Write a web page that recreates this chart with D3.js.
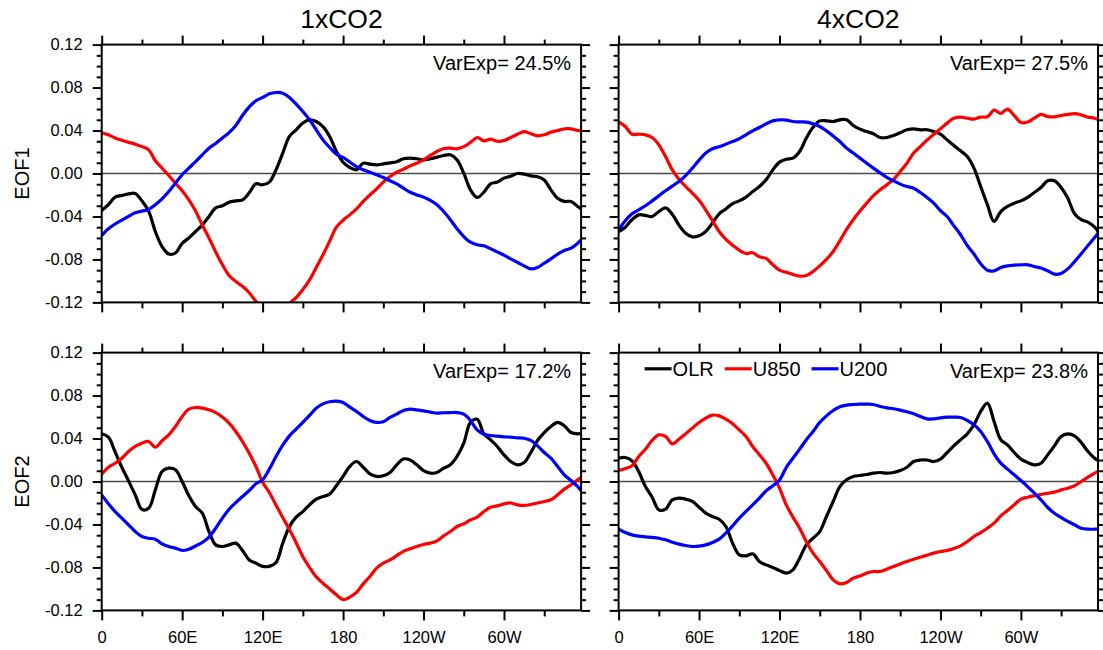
<!DOCTYPE html>
<html>
<head>
<meta charset="utf-8">
<script src="https://cdn.jsdelivr.net/npm/d3@7"></script>
<style>
  body { margin: 0; background: #fff; }
  svg { display: block; }
  text { font-family: "Liberation Sans", Arial, Helvetica, sans-serif; fill: #000; }
</style>
</head>
<body>
<svg id="chart" width="1103" height="650"></svg>
<script>
// Longitude grid (degrees east) shared by every series
const lon = [0,5,10,15,20,25,30,35,40,45,50,55,60,65,70,75,80,85,90,95,100,105,110,115,
  120,125,130,135,140,145,150,155,160,165,170,175,180,185,190,195,200,205,210,215,220,225,
  230,235,240,245,250,255,260,265,270,275,280,285,290,295,300,305,310,315,320,325,330,335,
  340,345,350,355,357.5];

const xTickVals = [0, 60, 120, 180, 240, 300];
const xTickLabels = ["0", "60E", "120E", "180", "120W", "60W"];
const xMinorVals = [30, 90, 150, 210, 270, 330];
const yTickVals = [-0.12, -0.08, -0.04, 0, 0.04, 0.08, 0.12];
const yTickLabels = ["-0.12", "-0.08", "-0.04", "0.00", "0.04", "0.08", "0.12"];
const yMinorVals = [-0.11,-0.10,-0.09,-0.07,-0.06,-0.05,-0.03,-0.02,-0.01,0.01,0.02,0.03,0.05,0.06,0.07,0.09,0.10,0.11];

const experiments = ["1xCO2", "4xCO2"];
const modes = ["EOF1", "EOF2"];
const seriesNames = ["OLR", "U850", "U200"];
const seriesColors = ["#000000", "#ff0000", "#0000ff"];
const varExp = [[24.5, 27.5], [17.2, 23.8]];

// ---- 1xCO2, EOF1 ----
const olr_1x_eof1 = [-0.0345,-0.029,-0.022,-0.0205,-0.019,-0.0186,-0.0255,-0.035,-0.054,-0.068,-0.075,-0.074,
  -0.065,-0.060,-0.054,-0.048,-0.040,-0.032,-0.030,-0.0267,-0.0255,-0.0245,-0.018,-0.0096,-0.0105,-0.008,
  0.0034,0.019,0.0345,0.0407,0.047,0.050,0.0484,0.0437,0.0345,0.0205,
  0.0105,0.0056,0.0034,0.0096,0.0087,0.008,0.009,0.0099,0.011,0.0137,0.0143,0.0137,0.0127,0.0137,0.0152,
  0.0168,0.0174,0.0127,0.0003,-0.0152,-0.0223,-0.0174,-0.0096,-0.008,-0.0043,-0.0025,0,-0.0006,-0.0022,
  -0.0031,-0.006,-0.0152,-0.023,-0.026,-0.026,-0.0307,-0.033];
const u850_1x_eof1 = [0.038,0.036,0.033,0.031,0.029,0.0273,0.025,0.022,0.0118,0.005,-0.0019,-0.009,
  -0.016,-0.0245,-0.035,-0.048,-0.060,-0.073,-0.085,-0.095,-0.1006,-0.105,-0.111,-0.119,-0.127,-0.133,
  -0.135,-0.131,-0.121,-0.1155,-0.108,-0.099,-0.0875,-0.0757,-0.063,-0.050,
  -0.0435,-0.0385,-0.033,-0.026,-0.020,-0.0143,-0.008,-0.0028,0.0012,0.004,0.0071,0.0096,0.0127,0.0168,
  0.0205,0.0233,0.0236,0.023,0.025,0.029,0.0335,0.0304,0.032,0.030,0.0307,0.0335,0.0366,0.039,0.037,
  0.035,0.036,0.0385,0.040,0.0416,0.0416,0.040,0.0397];
const u200_1x_eof1 = [-0.0577,-0.0515,-0.047,-0.0435,-0.040,-0.0366,-0.035,-0.0335,-0.029,-0.0236,-0.0168,-0.009,
  -0.0012,0.005,0.011,0.0174,0.0236,0.028,0.033,0.038,0.0447,0.054,0.062,0.0677,0.0708,0.0742,
  0.0754,0.0748,0.0708,0.0646,0.0577,0.050,0.0407,0.0313,0.0242,0.018,
  0.0149,0.0106,0.0065,0.0034,0.0012,-0.0012,-0.0037,-0.0068,-0.0096,-0.0137,-0.0174,-0.0199,-0.022,-0.025,
  -0.029,-0.0354,-0.043,-0.0515,-0.0587,-0.064,-0.0664,-0.0673,-0.070,-0.073,-0.076,-0.0795,-0.0826,-0.086,
  -0.0888,-0.0875,-0.0835,-0.0795,-0.075,-0.0717,-0.0695,-0.0649,-0.0618];

// ---- 4xCO2, EOF1 ----
const olr_4x_eof1 = [-0.054,-0.050,-0.043,-0.0385,-0.039,-0.040,-0.0354,-0.032,-0.038,-0.048,-0.0556,-0.059,
  -0.058,-0.054,-0.046,-0.0375,-0.033,-0.028,-0.0255,-0.022,-0.0168,-0.0121,-0.0059,0.0034,0.0106,0.0133,
  0.0143,0.0205,0.033,0.043,0.049,0.049,0.0484,0.050,0.050,0.0447,
  0.0413,0.039,0.037,0.0335,0.0335,0.0354,0.038,0.0407,0.0416,0.0407,0.0407,0.039,0.0366,0.0313,
  0.026,0.0211,0.0158,0.005,-0.0121,-0.029,-0.0447,-0.0354,-0.0307,-0.0276,-0.0255,-0.0223,-0.0177,-0.013,
  -0.0068,-0.0068,-0.013,-0.023,-0.0375,-0.043,-0.0453,-0.050,-0.054];
const u850_4x_eof1 = [0.048,0.0438,0.0366,0.0366,0.036,0.0335,0.0267,0.0158,0.0034,-0.0053,-0.0121,-0.0183,
  -0.025,-0.034,-0.044,-0.054,-0.0614,-0.0667,-0.0714,-0.0745,-0.0738,-0.0776,-0.079,-0.085,-0.090,-0.092,
  -0.094,-0.0956,-0.095,-0.0912,-0.086,-0.080,-0.0726,-0.0627,-0.052,-0.043,
  -0.035,-0.0276,-0.0205,-0.0152,-0.0106,-0.0056,0.0019,0.0096,0.019,0.025,0.031,0.0366,0.0416,0.0469,
  0.0515,0.0525,0.0515,0.0506,0.0525,0.0528,0.059,0.056,0.060,0.054,0.0475,0.048,0.0515,0.055,
  0.053,0.0528,0.054,0.055,0.0558,0.0546,0.0525,0.0515,0.0503];
const u200_4x_eof1 = [-0.0525,-0.044,-0.0375,-0.0338,-0.030,-0.0255,-0.0208,-0.016,-0.0118,-0.0074,-0.0019,0.005,
  0.0124,0.019,0.023,0.025,0.0273,0.0298,0.0323,0.036,0.0397,0.0428,0.0462,0.049,0.050,0.0497,
  0.0484,0.048,0.0478,0.0462,0.0438,0.0397,0.035,0.0298,0.0236,0.019,
  0.0143,0.0096,0.005,0.0006,-0.0037,-0.0068,-0.0099,-0.0121,-0.0137,-0.0177,-0.0223,-0.0276,-0.0345,-0.040,
  -0.0487,-0.057,-0.067,-0.075,-0.084,-0.090,-0.0906,-0.0875,-0.086,-0.0853,-0.085,-0.085,-0.0866,-0.088,
  -0.0906,-0.0937,-0.093,-0.0888,-0.082,-0.0748,-0.067,-0.0596,-0.0556];

// ---- 1xCO2, EOF2 ----
const olr_1x_eof2 = [0.0444,0.0413,0.0275,0.0133,0.0006,-0.0124,-0.026,-0.025,-0.0078,0.0093,0.0124,0.0109,
  0,-0.0133,-0.0233,-0.0295,-0.0466,-0.059,-0.0605,-0.059,-0.0574,-0.0642,-0.073,-0.076,-0.079,-0.079,
  -0.0754,-0.0574,-0.042,-0.0332,-0.028,-0.0217,-0.0165,-0.014,-0.0118,-0.004,
  0.0047,0.014,0.0186,0.0133,0.0071,0.0047,0.0053,0.0084,0.0155,0.021,0.020,0.0155,0.0102,0.0078,
  0.0084,0.0124,0.0155,0.0233,0.0357,0.055,0.058,0.0444,0.0388,0.0326,0.0248,0.0186,0.0155,0.0177,
  0.027,0.0382,0.0456,0.0512,0.055,0.0518,0.0456,0.0444,0.045];
const u850_1x_eof2 = [0.0068,0.0133,0.017,0.0217,0.028,0.0326,0.0357,0.0372,0.032,0.0379,0.0435,0.0512,
  0.0605,0.0674,0.0689,0.0683,0.0667,0.0642,0.060,0.0543,0.0466,0.0372,0.0264,0.014,-0.0006,-0.0102,
  -0.022,-0.0335,-0.0447,-0.057,-0.070,-0.080,-0.0888,-0.0947,-0.100,-0.1055,
  -0.110,-0.1077,-0.1033,-0.0953,-0.0885,-0.0807,-0.076,-0.073,-0.069,-0.065,-0.0627,-0.0605,-0.0587,-0.0574,
  -0.0552,-0.0506,-0.0466,-0.0419,-0.0394,-0.0357,-0.0332,-0.028,-0.0239,-0.0227,-0.0208,-0.020,-0.0217,-0.0223,
  -0.0214,-0.020,-0.0186,-0.017,-0.0124,-0.0071,-0.003,0.0016,0.0037];
const u200_1x_eof2 = [-0.0124,-0.0208,-0.028,-0.0341,-0.0403,-0.0466,-0.0512,-0.0528,-0.0537,-0.058,-0.0605,-0.062,
  -0.0642,-0.063,-0.060,-0.0568,-0.0518,-0.0435,-0.0341,-0.0258,-0.0196,-0.014,-0.0084,-0.0022,0.0016,0.0115,
  0.0233,0.0338,0.0425,0.0487,0.055,0.0615,0.0683,0.0723,0.0742,0.0748,
  0.0736,0.0692,0.0652,0.0605,0.0568,0.055,0.0556,0.0596,0.0627,0.0661,0.0673,0.0667,0.0658,0.0646,
  0.0636,0.064,0.0642,0.0642,0.0627,0.0568,0.048,0.044,0.0428,0.0422,0.0416,0.0413,0.0407,0.0403,
  0.0382,0.0332,0.027,0.0217,0.014,0.0062,0.0009,-0.0047,-0.0084];

// ---- 4xCO2, EOF2 ----
const olr_4x_eof2 = [0.0217,0.0223,0.0192,0.0093,-0.0047,-0.0146,-0.0264,-0.0258,-0.0171,-0.0155,-0.0164,-0.0186,
  -0.0239,-0.0295,-0.0326,-0.0351,-0.0419,-0.0574,-0.0683,-0.0692,-0.0673,-0.0745,-0.0776,-0.080,-0.0829,-0.0853,
  -0.0822,-0.0714,-0.059,-0.0528,-0.0466,-0.0326,-0.0186,-0.0047,0.0016,0.0047,
  0.0056,0.0065,0.0078,0.0084,0.0078,0.0084,0.0102,0.0133,0.0186,0.020,0.020,0.0186,0.0208,0.027,
  0.0332,0.0388,0.0444,0.0528,0.0652,0.073,0.0559,0.0388,0.0341,0.027,0.0208,0.0177,0.0155,0.017,
  0.0248,0.0332,0.0419,0.0444,0.0425,0.0363,0.028,0.0217,0.0196];
const u850_4x_eof2 = [0.0102,0.0121,0.0146,0.0233,0.0301,0.0382,0.0434,0.0419,0.035,0.0394,0.0444,0.0497,
  0.055,0.059,0.0618,0.0611,0.058,0.0537,0.048,0.0419,0.0326,0.0248,0.017,0.0062,-0.0062,-0.0217,
  -0.0332,-0.0435,-0.0559,-0.0667,-0.0745,-0.0829,-0.0916,-0.0953,-0.094,-0.090,
  -0.0880,-0.0853,-0.0838,-0.0838,-0.0816,-0.0791,-0.0767,-0.0745,-0.0723,-0.0705,-0.0686,-0.0667,-0.0652,-0.0642,
  -0.0624,-0.0599,-0.0559,-0.0512,-0.0475,-0.0435,-0.0388,-0.032,-0.027,-0.0217,-0.0164,-0.0146,-0.0133,-0.0121,
  -0.0109,-0.0099,-0.0078,-0.0062,-0.004,0,0.004,0.0078,0.0093];
const u200_4x_eof2 = [-0.0444,-0.0475,-0.0497,-0.0509,-0.0515,-0.0521,-0.0528,-0.0543,-0.0565,-0.0583,-0.0596,-0.0605,
  -0.0602,-0.059,-0.0568,-0.0537,-0.0481,-0.0413,-0.0341,-0.0279,-0.0217,-0.0155,-0.0087,-0.004,0.0015,0.013,
  0.0217,0.0301,0.0388,0.0466,0.055,0.0611,0.0661,0.0695,0.0711,0.0717,
  0.072,0.072,0.0717,0.0698,0.0686,0.0677,0.0664,0.0649,0.063,0.0605,0.0583,0.0583,0.0593,0.0599,
  0.0599,0.0596,0.0568,0.0528,0.0466,0.0372,0.0258,0.0171,0.0115,0.0062,0.0009,-0.0047,-0.0109,-0.0171,
  -0.0242,-0.0295,-0.0335,-0.0372,-0.0403,-0.0435,-0.0444,-0.0444,-0.0444];

const panelSeries = [
  [[olr_1x_eof1, u850_1x_eof1, u200_1x_eof1], [olr_4x_eof1, u850_4x_eof1, u200_4x_eof1]],
  [[olr_1x_eof2, u850_1x_eof2, u200_1x_eof2], [olr_4x_eof2, u850_4x_eof2, u200_4x_eof2]]
];

// ---- layout ----
const panelW = 479.4, panelH = 257.8;
const colX = [101.7, 618.6];
const rowY = [44.6, 352.6];

const x = d3.scaleLinear().domain([0, 357.5]).range([0, panelW]);
const y = d3.scaleLinear().domain([-0.12, 0.12]).range([panelH, 0]);

const svg = d3.select("#chart");
svg.append("rect").attr("width", 1103).attr("height", 650).attr("fill", "#fff");

svg.append("defs").append("clipPath").attr("id", "plotClip")
  .append("rect").attr("width", panelW).attr("height", panelH);

const line = d3.line()
  .x((d, i) => x(lon[i]))
  .y(d => y(d))
  .curve(d3.curveCatmullRom.alpha(0.5));

function styleAxis(g, showLabels, fontSize) {
  g.select(".domain").remove();
  g.selectAll(".tick line").attr("stroke", "#000").attr("stroke-width", 2);
  g.selectAll(".tick text").style("font-size", fontSize + "px")
    .attr("display", showLabels ? null : "none");
}

for (let r = 0; r < 2; r++) {
  for (let c = 0; c < 2; c++) {
    const g = svg.append("g").attr("transform", `translate(${colX[c]},${rowY[r]})`);

    // reference line at zero
    g.append("line")
      .attr("x1", 0).attr("x2", panelW)
      .attr("y1", y(0)).attr("y2", y(0))
      .attr("stroke", "#4a4a4a").attr("stroke-width", 1.3);

    // curves
    const lines = g.append("g").attr("clip-path", "url(#plotClip)");
    panelSeries[r][c].forEach((vals, k) => {
      lines.append("path")
        .datum(vals)
        .attr("d", line)
        .attr("fill", "none")
        .attr("stroke", seriesColors[k])
        .attr("stroke-width", 3.2)
        .attr("stroke-linejoin", "round")
        .attr("stroke-linecap", "round");
    });

    // minor ticks
    g.append("g").call(d3.axisLeft(y).tickValues(yMinorVals).tickSize(5).tickFormat(""))
      .call(a => styleAxis(a, false, 16));
    g.append("g").attr("transform", `translate(${panelW},0)`)
      .call(d3.axisRight(y).tickValues(yMinorVals).tickSize(5).tickFormat(""))
      .call(a => styleAxis(a, false, 16));
    g.append("g").call(d3.axisTop(x).tickValues(xMinorVals).tickSize(5).tickFormat(""))
      .call(a => styleAxis(a, false, 16));
    g.append("g").attr("transform", `translate(0,${panelH})`)
      .call(d3.axisBottom(x).tickValues(xMinorVals).tickSize(6).tickFormat(""))
      .call(a => styleAxis(a, false, 16));

    // major ticks and labels
    g.append("g")
      .call(d3.axisLeft(y).tickValues(yTickVals).tickSize(9).tickPadding(10)
        .tickFormat((d, i) => yTickLabels[i]))
      .call(a => styleAxis(a, c === 0, 16.5));
    g.append("g").attr("transform", `translate(${panelW},0)`)
      .call(d3.axisRight(y).tickValues(yTickVals).tickSize(9).tickFormat(""))
      .call(a => styleAxis(a, false, 16));
    g.append("g")
      .call(d3.axisTop(x).tickValues(xTickVals).tickSize(9).tickFormat(""))
      .call(a => styleAxis(a, false, 16));
    g.append("g").attr("transform", `translate(0,${panelH})`)
      .call(d3.axisBottom(x).tickValues(xTickVals).tickSize(10).tickPadding(10.5)
        .tickFormat((d, i) => xTickLabels[i]))
      .call(a => styleAxis(a, r === 1, 16.5));

    // frame
    g.append("rect")
      .attr("width", panelW).attr("height", panelH)
      .attr("fill", "none").attr("stroke", "#000").attr("stroke-width", 2);

    // explained variance
    g.append("text")
      .attr("x", panelW - 10).attr("y", 25.8)
      .attr("text-anchor", "end")
      .style("font-size", "20px")
      .text(`VarExp= ${varExp[r][c].toFixed(1)}%`);

    if (r === 0) {
      svg.append("text")
        .attr("x", colX[c] + panelW / 2).attr("y", 27.5)
        .attr("text-anchor", "middle")
        .style("font-size", "26.5px")
        .text(experiments[c]);
    }
    if (c === 0) {
      svg.append("text")
        .attr("transform", `translate(29,${rowY[r] + panelH / 2}) rotate(-90)`)
        .attr("text-anchor", "middle")
        .style("font-size", "20px")
        .text(modes[r]);
    }

    // legend in the lower-right panel
    if (r === 1 && c === 1) {
      const leg = g.append("g").attr("transform", "translate(26,0)");
      let lx = 0;
      seriesNames.forEach((name, k) => {
        leg.append("line")
          .attr("x1", lx).attr("x2", lx + 27)
          .attr("y1", 16.2).attr("y2", 16.2)
          .attr("stroke", seriesColors[k]).attr("stroke-width", 3.2);
        const t = leg.append("text")
          .attr("x", lx + 28).attr("y", 23.2)
          .style("font-size", "20px")
          .text(name);
        lx += 28 + t.node().getComputedTextLength() + 11;
      });
    }
  }
}
</script>
</body>
</html>
